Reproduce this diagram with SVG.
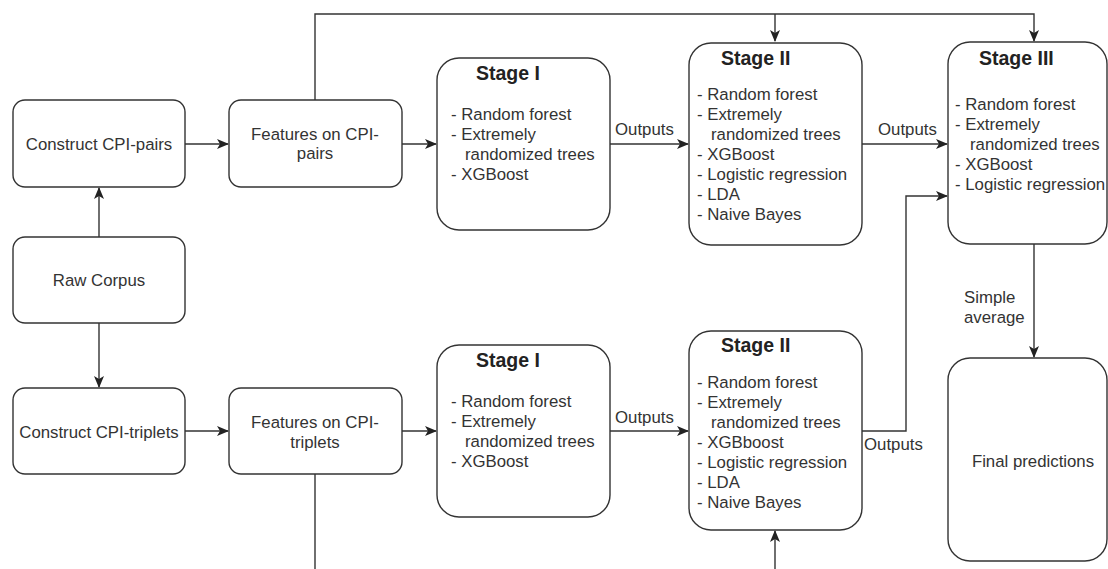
<svg xmlns="http://www.w3.org/2000/svg" width="1108" height="569" viewBox="0 0 1108 569">
<style>
.box{fill:#fff;stroke:#333;stroke-width:1.4}
.t{font-family:"Liberation Sans",Arial,sans-serif;font-size:16.8px;fill:#333}
.c{text-anchor:middle}
.h{font-family:"Liberation Sans",Arial,sans-serif;font-size:19.5px;font-weight:bold;fill:#222}
.ln{fill:none;stroke:#333;stroke-width:1.4}
</style>
<defs>
<marker id="a" markerWidth="12" markerHeight="10" refX="11" refY="5" orient="auto" markerUnits="userSpaceOnUse">
<path d="M0,0 L12,5 L0,10 L3,5 Z" fill="#222"/>
</marker>
</defs>
<rect width="1108" height="569" fill="#fff"/>
<g id="connectors">
<path class="ln" d="M99,237 V188" marker-end="url(#a)"/>
<path class="ln" d="M99,323 V387" marker-end="url(#a)"/>
<path class="ln" d="M185,144 H228" marker-end="url(#a)"/>
<path class="ln" d="M402,144 H436" marker-end="url(#a)"/>
<path class="ln" d="M610,144 H688" marker-end="url(#a)"/>
<path class="ln" d="M862,144 H947" marker-end="url(#a)"/>
<path class="ln" d="M315,100 V14 H1034 V41" marker-end="url(#a)"/>
<path class="ln" d="M775,14 V41" marker-end="url(#a)"/>
<path class="ln" d="M185,431 H228" marker-end="url(#a)"/>
<path class="ln" d="M402,431 H436" marker-end="url(#a)"/>
<path class="ln" d="M610,431 H688" marker-end="url(#a)"/>
<path class="ln" d="M862,431 H906 V196 H947" marker-end="url(#a)"/>
<path class="ln" d="M315,474 V569"/>
<path class="ln" d="M775,569 V531" marker-end="url(#a)"/>
<path class="ln" d="M1034,244 V357" marker-end="url(#a)"/>
<text class="t" x="615" y="135">Outputs</text>
<text class="t" x="878" y="135">Outputs</text>
<text class="t" x="615" y="423">Outputs</text>
<text class="t" x="864" y="450">Outputs</text>
<text class="t" x="964" y="303">Simple</text>
<text class="t" x="964" y="323">average</text>
</g>
<g id="construct-pairs">
<rect class="box" x="13" y="100" width="172" height="87" rx="12"/>
<text class="t c" x="99" y="150">Construct CPI-pairs</text>
</g>
<g id="features-pairs">
<rect class="box" x="229" y="100" width="173" height="87" rx="12"/>
<text class="t c" x="315" y="140">Features on CPI-</text>
<text class="t c" x="315" y="159">pairs</text>
</g>
<g id="raw-corpus">
<rect class="box" x="13" y="237" width="172" height="86" rx="12"/>
<text class="t c" x="99" y="286">Raw Corpus</text>
</g>
<g id="construct-triplets">
<rect class="box" x="13" y="388" width="172" height="86" rx="12"/>
<text class="t c" x="99" y="438">Construct CPI-triplets</text>
</g>
<g id="features-triplets">
<rect class="box" x="229" y="388" width="173" height="86" rx="12"/>
<text class="t c" x="315" y="428">Features on CPI-</text>
<text class="t c" x="315" y="448">triplets</text>
</g>
<g id="stage1-top">
<rect class="box" x="437" y="58" width="173" height="172" rx="22"/>
<text class="h" x="476" y="80">Stage I</text>
<text class="t" x="451" y="120">- Random forest</text>
<text class="t" x="451" y="140">- Extremely</text>
<text class="t" x="465" y="160">randomized trees</text>
<text class="t" x="451" y="180">- XGBoost</text>
</g>
<g id="stage2-top">
<rect class="box" x="689" y="43" width="173" height="202" rx="22"/>
<text class="h" x="721" y="65">Stage II</text>
<text class="t" x="697" y="100">- Random forest</text>
<text class="t" x="697" y="120">- Extremely</text>
<text class="t" x="711" y="140">randomized trees</text>
<text class="t" x="697" y="160">- XGBoost</text>
<text class="t" x="697" y="180">- Logistic regression</text>
<text class="t" x="697" y="200">- LDA</text>
<text class="t" x="697" y="220">- Naive Bayes</text>
</g>
<g id="stage3">
<rect class="box" x="948" y="42" width="159" height="202" rx="22"/>
<text class="h" x="979" y="65">Stage III</text>
<text class="t" x="955" y="110">- Random forest</text>
<text class="t" x="955" y="130">- Extremely</text>
<text class="t" x="970" y="150">randomized trees</text>
<text class="t" x="955" y="170">- XGBoost</text>
<text class="t" x="955" y="190">- Logistic regression</text>
</g>
<g id="stage1-bottom">
<rect class="box" x="437" y="345" width="173" height="172" rx="22"/>
<text class="h" x="476" y="367">Stage I</text>
<text class="t" x="451" y="407">- Random forest</text>
<text class="t" x="451" y="427">- Extremely</text>
<text class="t" x="465" y="447">randomized trees</text>
<text class="t" x="451" y="467">- XGBoost</text>
</g>
<g id="stage2-bottom">
<rect class="box" x="689" y="331" width="173" height="199" rx="22"/>
<text class="h" x="721" y="352">Stage II</text>
<text class="t" x="697" y="388">- Random forest</text>
<text class="t" x="697" y="408">- Extremely</text>
<text class="t" x="711" y="428">randomized trees</text>
<text class="t" x="697" y="448">- XGBboost</text>
<text class="t" x="697" y="468">- Logistic regression</text>
<text class="t" x="697" y="488">- LDA</text>
<text class="t" x="697" y="508">- Naive Bayes</text>
</g>
<g id="final">
<rect class="box" x="948" y="358" width="159" height="203" rx="22"/>
<text class="t c" x="1033" y="467">Final predictions</text>
</g>
</svg>
